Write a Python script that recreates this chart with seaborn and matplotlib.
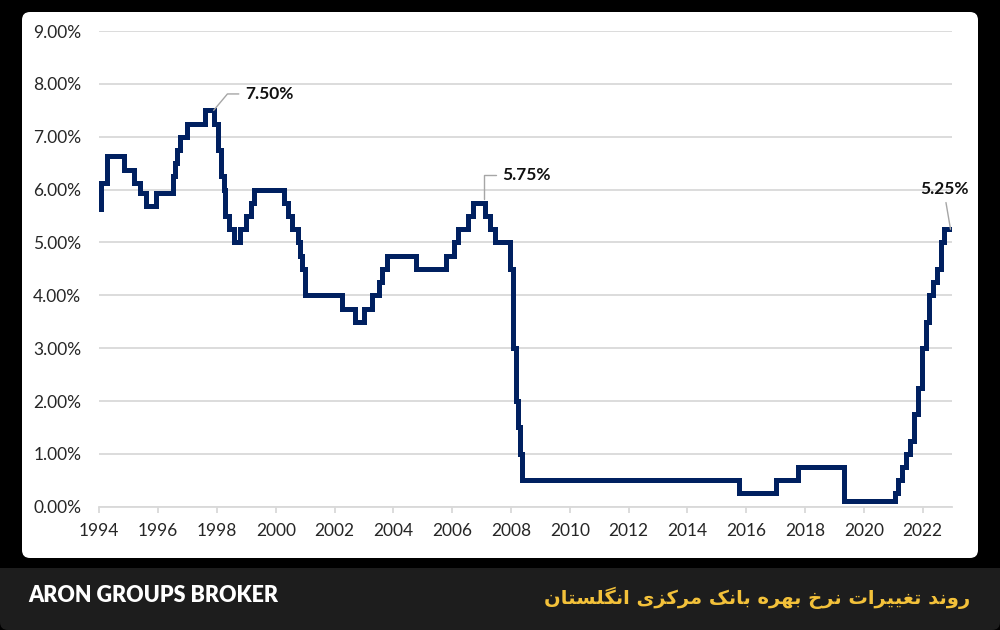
import matplotlib
matplotlib.use("Agg")
import matplotlib.pyplot as plt
from matplotlib.patches import FancyBboxPatch
from matplotlib.transforms import IdentityTransform
import seaborn as sns
import pandas as pd

# Bank of England rate (step changes)
years = [1994.00, 1994.07, 1994.25, 1994.85, 1995.19, 1995.39, 1995.58, 1995.92,
         1996.52, 1996.58, 1996.64, 1996.75, 1996.98, 1997.60, 1997.89, 1998.05,
         1998.15, 1998.23, 1998.27, 1998.40, 1998.57, 1998.80, 1998.99, 1999.17,
         1999.25, 2000.27, 2000.42, 2000.54, 2000.76, 2000.84, 2000.89, 2001.01,
         2002.26, 2002.68, 2003.00, 2003.29, 2003.51, 2003.63, 2003.78, 2004.76,
         2005.79, 2006.05, 2006.21, 2006.55, 2006.70, 2007.12, 2007.30, 2007.46,
         2007.98, 2008.06, 2008.17, 2008.23, 2008.31, 2008.38, 2015.75, 2017.00,
         2017.75, 2019.34, 2021.07, 2021.17, 2021.31, 2021.45, 2021.56, 2021.71,
         2021.85, 2021.97, 2022.10, 2022.22, 2022.36, 2022.49, 2022.61, 2022.73,
         2023.00]
rates = [5.63, 6.13, 6.63, 6.38, 6.13, 5.94, 5.69, 5.94,
         6.25, 6.50, 6.75, 7.00, 7.25, 7.50, 7.25, 6.75,
         6.25, 6.00, 5.50, 5.25, 5.00, 5.25, 5.50, 5.75,
         6.00, 5.75, 5.50, 5.25, 5.00, 4.75, 4.50, 4.00,
         3.75, 3.50, 3.75, 4.00, 4.25, 4.50, 4.75, 4.50,
         4.75, 5.00, 5.25, 5.50, 5.75, 5.50, 5.25, 5.00,
         4.50, 3.00, 2.00, 1.50, 1.00, 0.50, 0.25, 0.50,
         0.75, 0.10, 0.25, 0.50, 0.75, 1.00, 1.25, 1.75,
         2.25, 3.00, 3.50, 4.00, 4.25, 4.50, 5.00, 5.25,
         5.25]

x_ticks = list(range(1994, 2023, 2))
y_ticks = list(range(0, 10))

# callouts: (x, y of the point, label)
callouts = [(1997.89, 7.50, "7.50%"), (2007.10, 5.75, "5.75%"), (2022.95, 5.25, "5.25%")]

brand = "ARON GROUPS BROKER"
title_fa = "روند تغییرات نرخ بهره بانک مرکزی انگلستان"

# minimal persian shaping (matplotlib has no complex text layout)
FORMS = {
    "ا": ("\uFE8D", "\uFE8E", None, None),
    "ب": ("\uFE8F", "\uFE90", "\uFE91", "\uFE92"),
    "ت": ("\uFE95", "\uFE96", "\uFE97", "\uFE98"),
    "خ": ("\uFEA5", "\uFEA6", "\uFEA7", "\uFEA8"),
    "د": ("\uFEA9", "\uFEAA", None, None),
    "ر": ("\uFEAD", "\uFEAE", None, None),
    "ز": ("\uFEAF", "\uFEB0", None, None),
    "س": ("\uFEB1", "\uFEB2", "\uFEB3", "\uFEB4"),
    "غ": ("\uFECD", "\uFECE", "\uFECF", "\uFED0"),
    "ل": ("\uFEDD", "\uFEDE", "\uFEDF", "\uFEE0"),
    "م": ("\uFEE1", "\uFEE2", "\uFEE3", "\uFEE4"),
    "ن": ("\uFEE5", "\uFEE6", "\uFEE7", "\uFEE8"),
    "ه": ("\uFEE9", "\uFEEA", "\uFEEB", "\uFEEC"),
    "و": ("\uFEED", "\uFEEE", None, None),
    "ی": ("\uFBFC", "\uFBFD", "\uFBFE", "\uFBFF"),
    "ک": ("\uFB8E", "\uFB8F", "\uFB90", "\uFB91"),
    "گ": ("\uFB92", "\uFB93", "\uFB94", "\uFB95"),
}
RIGHT_ONLY = set("ادذرزوژآ")


def shape(text):
    out = []
    for i, ch in enumerate(text):
        if ch not in FORMS:
            out.append(ch)
            continue
        prev = text[i - 1] if i > 0 else ""
        nxt = text[i + 1] if i + 1 < len(text) else ""
        jp = prev in FORMS and prev not in RIGHT_ONLY
        jn = nxt in FORMS and ch not in RIGHT_ONLY
        iso, fin, ini, med = FORMS[ch]
        if jp and jn:
            out.append(med)
        elif jp:
            out.append(fin)
        elif jn:
            out.append(ini)
        else:
            out.append(iso)
    return "".join(reversed(out))


sns.set_theme(style="white")
plt.rcParams["font.family"] = ["Lato", "DejaVu Sans"]

df = pd.DataFrame({"year": years, "rate": rates})

fig = plt.figure(figsize=(10, 6.3), dpi=100, facecolor="black")

# white card and dark footer band, drawn in pixels behind the axes
band = FancyBboxPatch((8, 8), 984, 100, boxstyle="round,pad=8",
                      transform=IdentityTransform(), facecolor="#1d1d1d",
                      edgecolor="none", zorder=-10)
cover = plt.Rectangle((0, 62), 1000, 60, transform=IdentityTransform(),
                      facecolor="black", edgecolor="none", zorder=-9)
card = FancyBboxPatch((30, 80), 940, 530, boxstyle="round,pad=8",
                      transform=IdentityTransform(), facecolor="white",
                      edgecolor="none", zorder=-8)
fig.patches.extend([band, cover, card])

ax = fig.add_axes([0.0993, 0.1957, 0.8527, 0.755])
ax.set_facecolor("none")
ax.set_zorder(2)

sns.lineplot(data=df, x="year", y="rate", ax=ax, drawstyle="steps-post",
             estimator=None, sort=False, color="#002060", linewidth=3.6,
             solid_joinstyle="miter", zorder=3)

ax.set_xlim(1994, 2023)
ax.set_ylim(0, 9)
ax.set_xticks(x_ticks)
ax.set_yticks(y_ticks)
ax.set_yticklabels([f"{v:.2f}%" for v in y_ticks])
ax.set_xlabel("")
ax.set_ylabel("")

ax.grid(axis="y", color="#d9d9d9", linewidth=1.3)
ax.grid(axis="x", visible=False)
for s in ["top", "right", "left"]:
    ax.spines[s].set_visible(False)
ax.spines["bottom"].set_color("#d9d9d9")
ax.spines["bottom"].set_linewidth(1.3)
ax.tick_params(axis="x", which="major", bottom=True, length=4, width=1.3,
               color="#d9d9d9", pad=8, labelsize=12.5, labelcolor="#262626")
ax.tick_params(axis="y", left=False, pad=7, labelsize=12.5, labelcolor="#262626")

lead = dict(arrowstyle="-", color="#a6a6a6", lw=1, shrinkA=2, shrinkB=0)
ax.annotate(callouts[0][2], xy=callouts[0][:2], xytext=(1998.95, 7.81),
            ha="left", va="center", fontsize=12.5, fontweight="bold", color="#111111",
            arrowprops=dict(lead, relpos=(0, 0.5),
                            connectionstyle="angle,angleA=0,angleB=50,rad=0"))
ax.annotate(callouts[1][2], xy=(callouts[1][0], callouts[1][1] + 0.08), xytext=(2007.69, 6.27),
            ha="left", va="center", fontsize=12.5, fontweight="bold", color="#111111",
            arrowprops=dict(lead, relpos=(0, 0.5),
                            connectionstyle="angle,angleA=0,angleB=90,rad=0"))
ax.annotate(callouts[2][2], xy=callouts[2][:2], xytext=(2022.76, 6.02),
            ha="center", va="center", fontsize=12.5, fontweight="bold", color="#111111",
            arrowprops=dict(lead, relpos=(0.5, 0)))

fig.text(0.028, 1 - 595 / 630, brand, ha="left", va="center", color="white",
         fontsize=15.5, fontweight="heavy")
fig.text(0.970, 1 - 598 / 630, shape(title_fa), ha="right", va="center",
         color="#f3c13a", fontsize=14, fontweight="bold", family=["DejaVu Sans"])

fig.savefig("out.png", dpi=100, facecolor="black")
